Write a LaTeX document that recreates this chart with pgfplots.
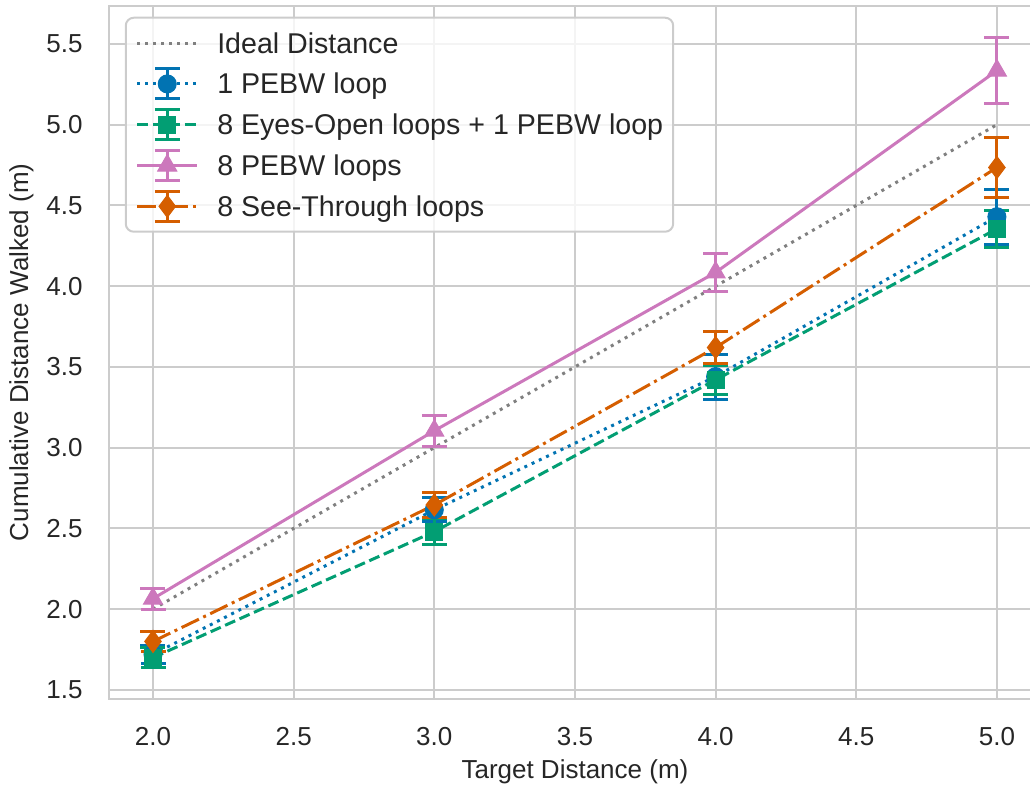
\documentclass[border=0pt]{standalone}
\usepackage{pgfplots}
\pgfplotsset{compat=1.18}
\usepackage{fontspec}
\setmainfont{Liberation Sans}
\definecolor{cbblue}{HTML}{0173B2}
\definecolor{cbgreen}{HTML}{029E73}
\definecolor{cborange}{HTML}{D55E00}
\definecolor{cbpink}{HTML}{CC78BC}
\definecolor{idealgray}{HTML}{808080}
\definecolor{txt}{HTML}{262626}
\definecolor{gridc}{HTML}{CCCCCC}
\pgfplotsset{
  ebar/.style={
    error bars/.cd, y dir=both, y explicit,
    error bar style={solid, line width=1.5pt},
    error mark options={solid, rotate=90, mark size=6.25pt, line width=1.5pt}
  },
  idealleg/.style={legend image code/.code={\begin{scope}[sharp corners, fill opacity=1, draw opacity=1]
    \path[draw=none, fill=none] (0pt,-10.2pt) rectangle (40pt,10.2pt);
    \draw[##1] (0pt,0pt) -- (30pt,0pt);\end{scope}}},
}
\begin{document}
\begin{tikzpicture}
\begin{axis}[
  scale only axis, width=465.55pt, height=346.4pt,
  xmin=1.845, xmax=5.155, ymin=1.445, ymax=5.735,
  xtick={2,2.5,3,3.5,4,4.5,5}, ytick={1.5,2,2.5,3,3.5,4,4.5,5,5.5},
  /pgf/number format/.cd, fixed, fixed zerofill, precision=1, assume math mode=true,
  /pgfplots/.cd,
  major tick length=0pt,
  grid=major,
  major grid style={gridc, line width=1pt},
  axis line style={gridc, line width=1pt},
  ticklabel style={font=\fontsize{13}{15}\selectfont, text=txt},
  yticklabel style={inner sep=0pt, xshift=-13.2pt},
  xticklabel style={inner sep=0pt, yshift=-14pt},
  xlabel={Target Distance (m)},
  ylabel={Cumulative Distance Walked (m)},
  xlabel style={at={(axis description cs:0.5,0)}, anchor=base, yshift=-40pt, font=\fontsize{13}{15}\selectfont, text=txt},
  ylabel style={at={(axis description cs:-0.0874,0.5)}, anchor=base, font=\fontsize{13}{15}\selectfont, text=txt},
  legend cell align=left,
  legend style={at={(axis description cs:0.0165,0.9845)}, anchor=north west,
    draw=gridc, line width=1pt, rounded corners=4pt, fill=white, fill opacity=0.8,
    draw opacity=1, text opacity=1,
    inner xsep=5pt, inner ysep=2.5pt, row sep=0pt, column sep=0pt,
    nodes={inner sep=0pt, text height=10pt, text depth=0pt, text=txt},
    font=\fontsize{14.3}{16}\selectfont},
  legend image code/.code={
    \begin{scope}[sharp corners, fill opacity=1, draw opacity=1]
    \path[draw=none, fill=none] (0pt,-10.2pt) rectangle (40pt,10.2pt);
    \draw[#1, mark=none] (0pt,0pt) -- (30pt,0pt);
    \draw[#1, solid, mark=none] (15pt,-7.5pt) -- (15pt,7.5pt) (8.75pt,-7.5pt) -- (21.25pt,-7.5pt) (8.75pt,7.5pt) -- (21.25pt,7.5pt);
    \draw[#1] plot coordinates {(15pt,0pt)};
    \end{scope}
  },
]
\addplot[idealgray, line width=1.5pt, dash pattern=on 1.5pt off 2.5pt, idealleg]
  coordinates {(2,2) (5,5)};
\addlegendentry{Ideal Distance}

\addplot[cbblue, line width=1.5pt, dash pattern=on 1.5pt off 2.5pt,
  mark=*, mark size=4.5pt, mark options={solid, fill=cbblue, line width=0.5pt}, ebar]
  table[x=x, y=y, y error=e] {
x y e
2 1.72 0.055
3 2.615 0.075
4 3.44 0.14
5 4.43 0.17
};
\addlegendentry{1 PEBW loop}

\addplot[cbgreen, line width=1.5pt, dash pattern=on 5.5pt off 2.4pt,
  mark=square*, mark size=4.25pt, mark options={solid, fill=cbgreen, line width=0.5pt}, ebar]
  table[x=x, y=y, y error=e] {
x y e
2 1.70 0.06
3 2.48 0.08
4 3.42 0.09
5 4.355 0.115
};
\addlegendentry{8 Eyes-Open loops + 1 PEBW loop}

\addplot[cbpink, line width=1.5pt, solid,
  mark=triangle*, mark size=5.5pt, mark options={solid, fill=cbpink, line width=0.5pt}, ebar]
  table[x=x, y=y, y error=e] {
x y e
2 2.065 0.065
3 3.105 0.095
4 4.085 0.115
5 5.335 0.205
};
\addlegendentry{8 PEBW loops}

\addplot[cborange, line width=1.5pt, dash pattern=on 9.6pt off 2.4pt on 1.5pt off 2.4pt,
  mark=diamond*, mark size=5.5pt, mark options={solid, fill=cborange, line width=0.5pt}, ebar]
  table[x=x, y=y, y error=e] {
x y e
2 1.80 0.06
3 2.645 0.075
4 3.62 0.10
5 4.735 0.185
};
\addlegendentry{8 See-Through loops}
\end{axis}
\pgfresetboundingbox
\useasboundingbox (-54.7pt,-44.05pt) rectangle (460.3pt,349.4pt);
\end{tikzpicture}
\end{document}
